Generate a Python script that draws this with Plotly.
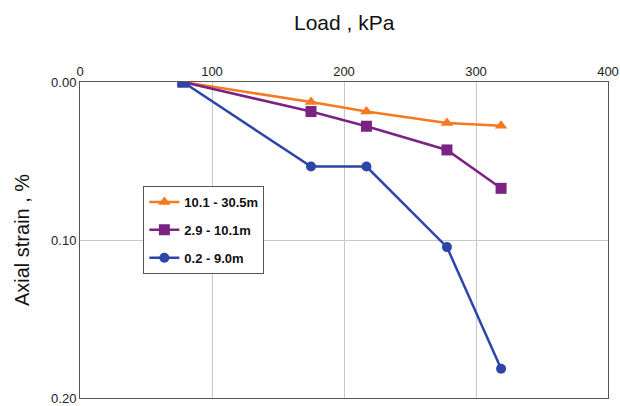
import plotly.graph_objects as go

load_kpa = [78, 175, 217, 278, 319]
series_names = ["10.1 - 30.5m", "2.9 - 10.1m", "0.2 - 9.0m"]
strain_orange = [0.0, 0.0127, 0.0187, 0.026, 0.0277]
strain_purple = [0.0, 0.0187, 0.028, 0.043, 0.0673]
strain_blue = [0.0, 0.0535, 0.0535, 0.1045, 0.1815]
x_ticks = [0, 100, 200, 300, 400]
y_ticks = [0.0, 0.1, 0.2]

colors = ["#F47920", "#7B2283", "#2B45A8"]
symbols = ["triangle-up", "square", "circle"]
sizes = [11, 11, 10]

fig = go.Figure()
for i, (name, ys) in enumerate(zip(series_names, [strain_orange, strain_purple, strain_blue])):
    fig.add_trace(go.Scatter(
        x=load_kpa, y=ys, name=name, mode="lines+markers",
        line=dict(color=colors[i], width=2.5),
        marker=dict(color=colors[i], symbol=symbols[i], size=sizes[i]),
        legendgroup=name,
    ))
# shared start point drawn on top as a blue square
fig.add_trace(go.Scatter(
    x=load_kpa[:1], y=strain_blue[:1], mode="markers", showlegend=False,
    marker=dict(color=colors[2], symbol="square", size=11),
))

fig.update_layout(
    width=620, height=406,
    margin=dict(l=80, r=12, t=82, b=8, autoexpand=False),
    paper_bgcolor="white", plot_bgcolor="white",
    font=dict(family="Liberation Sans, Arial, sans-serif", color="#222"),
    showlegend=True,
    legend=dict(
        x=0.12, y=0.671, xanchor="left", yanchor="top",
        bgcolor="white", bordercolor="#555", borderwidth=1,
        font=dict(size=13, color="#111", family="Liberation Sans, Arial, sans-serif", weight="bold"),
        tracegroupgap=8,
    ),
    xaxis=dict(
        side="top", range=[0, 400], tickvals=x_ticks, ticks="",
        showgrid=True, gridcolor="#c8c8c8", gridwidth=1, automargin=False,
        showline=True, linecolor="#555", linewidth=1, mirror=True,
        tickfont=dict(size=13, color="#222"), zeroline=False,
        ticklabeloverflow="allow",
    ),
    yaxis=dict(
        range=[0.2, 0.0], tickvals=y_ticks, tickformat=".2f", ticks="",
        showgrid=True, gridcolor="#c8c8c8", gridwidth=1, automargin=False,
        showline=True, linecolor="#555", linewidth=1, mirror=True,
        tickfont=dict(size=13, color="#222"), zeroline=False,
        ticklabeloverflow="allow",
        title=dict(text="Axial strain , %", font=dict(size=20, color="#111"), standoff=16),
    ),
    annotations=[dict(
        text="Load , kPa", x=0.5, y=1, xref="paper", yref="paper",
        yshift=60, xanchor="center", yanchor="middle", showarrow=False,
        font=dict(size=21, color="#111"),
    )],
)

# remove the default page margin so the 620x406 figure fills the window exactly
page_css = ("document.body.style.margin='0';"
            "document.body.style.overflow='hidden';"
            "document.documentElement.style.overflow='hidden';")
fig.write_html("out.html", post_script=page_css, config={"displayModeBar": False})
